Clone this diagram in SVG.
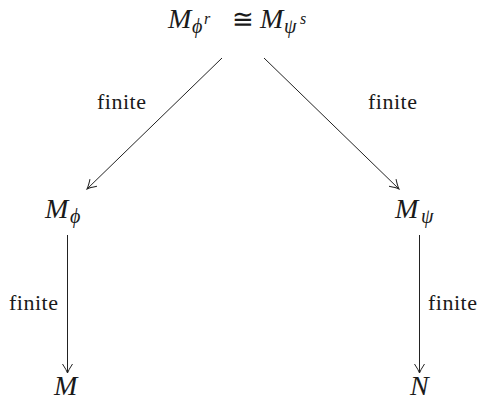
<svg xmlns="http://www.w3.org/2000/svg" width="479" height="400" viewBox="0 0 479 400">
<style>
text{font-family:"Liberation Serif","Times New Roman","DejaVu Serif",serif;fill:#1a1a1a}
.m{font-style:italic;font-size:28px}
.s{font-style:italic;font-size:20px}
.ss{font-style:italic;font-size:16px}
.r{font-size:26px}
.l{font-size:22px;letter-spacing:0.5px}
.e{stroke:#222;stroke-width:1;fill:none;marker-end:url(#a)}
</style>
<defs>
<marker id="a" viewBox="-10 -6 12 12" refX="0" refY="0" markerWidth="12" markerHeight="12" markerUnits="userSpaceOnUse" orient="auto">
<path d="M-9,-5 Q-3,-1 0,0 Q-3,1 -9,5" stroke="#222" stroke-width="1" fill="none"/>
</marker>
</defs>
<g id="top">
<text x="168" y="28" class="m">M</text>
<text x="192" y="33" class="s">ϕ</text>
<text x="204" y="24" class="ss">r</text>
<text x="232" y="28" class="r">≅</text>
<text x="260" y="28" class="m">M</text>
<text x="284" y="33" class="s">ψ</text>
<text x="300" y="24" class="ss">s</text>
</g>
<g id="Mphi">
<text x="45" y="218" class="m">M</text>
<text x="70" y="223" class="s">ϕ</text>
</g>
<g id="Mpsi">
<text x="395" y="218" class="m">M</text>
<text x="421" y="223" class="s">ψ</text>
</g>
<g id="M"><text x="54" y="395" class="m">M</text></g>
<g id="N"><text x="410" y="395" class="m">N</text></g>
<g id="connectors">
<path class="e" d="M222,58 L87,189"/>
<path class="e" d="M264,58 L399,189"/>
<path class="e" d="M67.5,235 L67.5,373"/>
<path class="e" d="M419.5,235 L419.5,373"/>
<text x="97" y="109" class="l">finite</text>
<text x="368" y="109" class="l">finite</text>
<text x="9" y="310" class="l">finite</text>
<text x="428" y="310" class="l">finite</text>
</g>
</svg>
